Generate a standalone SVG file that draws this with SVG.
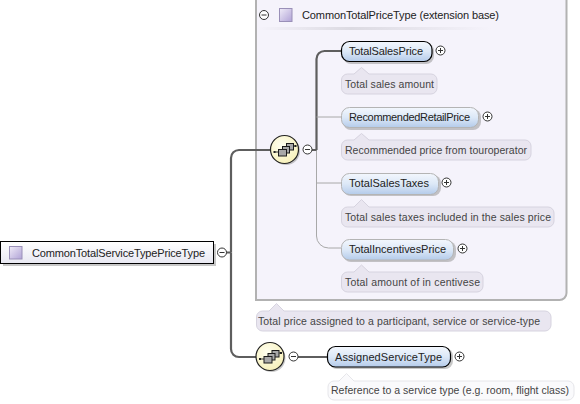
<svg xmlns="http://www.w3.org/2000/svg" width="580" height="404" viewBox="0 0 580 404">
<style>
text{font-family:"Liberation Sans",Arial,sans-serif;font-size:11px;fill:#222}
.doc{font-size:10.5px;fill:#444}
.docb{fill:#e9e6f0;stroke:#d6d3df;stroke-width:1}
.docw{fill:#fafafc;stroke:#e6e6ea;stroke-width:1}
.shadow{fill:#8f8f8f;opacity:.5}
.req{fill:url(#blue);stroke:#000;stroke-width:1.2}
.opt{fill:url(#blue);stroke:#b4b4b4;stroke-width:1}
.btn{fill:#fff;stroke:#333;stroke-width:1}
.sym{stroke:#333;stroke-width:1;fill:none}
.thick{fill:none;stroke:#5e5e5e;stroke-width:2.2}
.thin{fill:none;stroke:#a8a8a8;stroke-width:1}
.sq{fill:url(#purple);stroke:#9a90b8;stroke-width:1}
.box{fill:#a8a8a8;stroke:#1c1c1c;stroke-width:1}
</style>
<defs>
<linearGradient id="blue" x1="0" y1="0" x2="0" y2="1"><stop offset="0" stop-color="#f3f7fd"/><stop offset=".5" stop-color="#dce8f7"/><stop offset="1" stop-color="#b4cbea"/></linearGradient>
<linearGradient id="purple" x1="0" y1="0" x2="1" y2="1"><stop offset="0" stop-color="#f0ecf8"/><stop offset="1" stop-color="#b0a2d6"/></linearGradient>
<linearGradient id="root" x1="0" y1="0" x2="0" y2="1"><stop offset="0" stop-color="#fff"/><stop offset="1" stop-color="#e8e8f2"/></linearGradient>
<radialGradient id="seq" cx=".4" cy=".35" r=".7"><stop offset="0" stop-color="#fffff0"/><stop offset="1" stop-color="#f7f0b8"/></radialGradient>
<linearGradient id="rule" x1="0" y1="0" x2="1" y2="0"><stop offset="0" stop-color="#f5f3fb"/><stop offset=".4" stop-color="#dcdae2"/><stop offset="1" stop-color="#f5f3fb"/></linearGradient>
<g id="plus"><circle class="btn" r="4.500"/><path class="sym" d="M-2.500 0H2.500M0-2.500V2.500"/></g>
<g id="minus"><circle class="btn" r="4.500"/><path class="sym" d="M-2.500 0H2.500"/></g>
<g id="seqsym"><circle r="14" cx="1.500" cy="1.500" class="shadow"/><circle r="14" fill="url(#seq)" stroke="#222" stroke-width="1.200"/>
<path class="sym" d="M-10 2.500H-6M9-3.500H11"/><rect class="box" x="2" y="-6" width="7" height="6.500"/><rect class="box" x="-2" y="-3" width="7" height="6.500"/><rect class="box" x="-6" y="0" width="8" height="6.500"/><rect x="-11" y="1.500" width="2" height="2" fill="#222"/><rect x="10" y="-4.500" width="2" height="2" fill="#222"/></g>
</defs>
<rect width="580" height="404" fill="#fff"/>

<g id="extension-base">
<path d="M256 -1H566.500V293a7 7 0 0 1-7 7H256Z" fill="#f5f3fb" stroke="#b2b2b2" stroke-width="2"/>
<use href="#minus" x="264" y="15"/>
<rect class="sq" x="279.500" y="8.500" width="12.500" height="13"/>
<text x="302" y="18.500" textLength="197" lengthAdjust="spacing">CommonTotalPriceType (extension base)</text>
<rect x="257" y="27" width="234" height="3" fill="url(#rule)"/>
</g>

<g id="connectors">
<path class="thick" d="M231 252.500V158a8 8 0 0 1 8-8H271"/>
<path class="thick" d="M231 252.500V349a8 8 0 0 0 8 8H257"/>
<path class="thick" d="M316.500 150V59a8 8 0 0 1 8-8H341"/>
<path class="thin" d="M316.500 117H341M316.500 183H341M316.500 150V236a12 12 0 0 0 12 12H341"/>
<path class="thick" d="M226 252.500H231M312 150H316.500M298 357H327"/>
</g>

<g id="root-type">
<rect class="shadow" x="3" y="244" width="213" height="22"/>
<rect x="0.500" y="241.500" width="213" height="22" fill="url(#root)" stroke="#000" stroke-width="1"/>
<rect class="sq" x="9.500" y="246.500" width="12.500" height="12.500"/>
<text x="32" y="256.500" textLength="173" lengthAdjust="spacing">CommonTotalServiceTypePriceType</text>
<use href="#minus" x="222" y="252.500"/>
</g>

<g id="sequence-1"><use href="#seqsym" x="284.500" y="149.500"/><use href="#minus" x="307.500" y="149.500"/></g>
<g id="sequence-2"><use href="#seqsym" x="270" y="356.500"/><use href="#minus" x="293.500" y="356.500"/></g>

<g id="TotalSalesPrice">
<rect class="shadow" x="343" y="43" width="91" height="21" rx="8"/>
<rect class="req" x="341.500" y="41.500" width="90.500" height="20" rx="8"/>
<text x="349" y="55" textLength="74" lengthAdjust="spacing">TotalSalesPrice</text>
<use href="#plus" x="440.500" y="50.500"/>
<path class="docb" d="M341.500 80a6 6 0 0 1 6-6H354L361.500 67.500L369 74H431a6 6 0 0 1 6 6V88a6 6 0 0 1-6 6H347.500a6 6 0 0 1-6-6Z"/>
<text class="doc" x="345" y="88" textLength="89" lengthAdjust="spacing">Total sales amount</text>
</g>

<g id="RecommendedRetailPrice">
<rect class="shadow" x="343" y="109" width="138" height="21" rx="8"/>
<rect class="opt" x="341.500" y="107.500" width="137" height="20" rx="8"/>
<text x="349" y="121" textLength="121" lengthAdjust="spacing">RecommendedRetailPrice</text>
<use href="#plus" x="487.500" y="116.500"/>
<path class="docb" d="M341.500 146a6 6 0 0 1 6-6H354L361.500 133.500L369 140H525a6 6 0 0 1 6 6V154a6 6 0 0 1-6 6H347.500a6 6 0 0 1-6-6Z"/>
<text class="doc" x="345" y="154" textLength="182" lengthAdjust="spacing">Recommended price from touroperator</text>
</g>

<g id="TotalSalesTaxes">
<rect class="shadow" x="343" y="175" width="98" height="21" rx="8"/>
<rect class="opt" x="341.500" y="173.500" width="97" height="21" rx="8"/>
<text x="349" y="187" textLength="80" lengthAdjust="spacing">TotalSalesTaxes</text>
<use href="#plus" x="446.500" y="182.500"/>
<path class="docb" d="M341.500 213a6 6 0 0 1 6-6H354L361.500 199.500L369 207H548a6 6 0 0 1 6 6V221a6 6 0 0 1-6 6H347.500a6 6 0 0 1-6-6Z"/>
<text class="doc" x="345" y="221" textLength="206" lengthAdjust="spacing">Total sales taxes included in the sales price</text>
</g>

<g id="TotalIncentivesPrice">
<rect class="shadow" x="343" y="241" width="113" height="21" rx="8"/>
<rect class="opt" x="341.500" y="239.500" width="112" height="20.500" rx="8"/>
<text x="349" y="253" textLength="97" lengthAdjust="spacing">TotalIncentivesPrice</text>
<use href="#plus" x="462.500" y="248.500"/>
<path class="docb" d="M341.500 278a6 6 0 0 1 6-6H354L361.500 265L369 272H477a6 6 0 0 1 6 6V286a6 6 0 0 1-6 6H347.500a6 6 0 0 1-6-6Z"/>
<text class="doc" x="345" y="286" textLength="135" lengthAdjust="spacing">Total amount of in centivese</text>
</g>

<g id="type-documentation">
<path class="docb" d="M256.500 317a6 6 0 0 1 6-6H269L276.500 303.500L284 311H545a6 6 0 0 1 6 6V325a6 6 0 0 1-6 6H262.500a6 6 0 0 1-6-6Z"/>
<text class="doc" x="258" y="324.500" textLength="282" lengthAdjust="spacing">Total price assigned to a participant, service or service-type</text>
</g>

<g id="AssignedServiceType">
<rect class="shadow" x="329" y="348" width="124" height="21" rx="8"/>
<rect class="req" x="327.500" y="346.500" width="123" height="20.500" rx="8"/>
<text x="335" y="360.500" textLength="107" lengthAdjust="spacing">AssignedServiceType</text>
<use href="#plus" x="459.500" y="356.500"/>
<path class="docw" d="M328 387a6 6 0 0 1 6-6H339L346.500 373.500L354 381H568a6 6 0 0 1 6 6V394a6 6 0 0 1-6 6H334a6 6 0 0 1-6-6Z"/>
<text class="doc" x="331" y="394" textLength="238" lengthAdjust="spacing">Reference to a service type (e.g. room, flight class)</text>
</g>
</svg>
